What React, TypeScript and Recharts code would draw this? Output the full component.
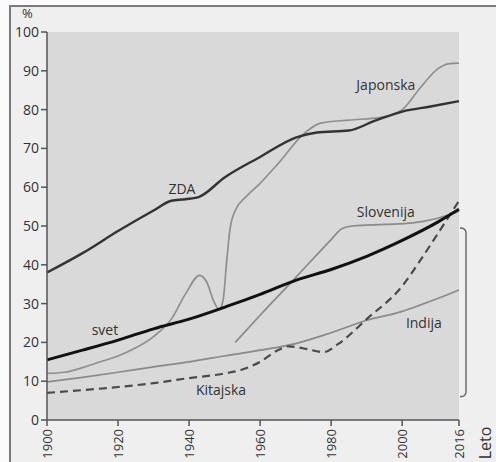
import React from 'react'
import { LineChart, Line, XAxis, YAxis, CartesianGrid, ReferenceLine, ReferenceDot } from 'recharts'

const zda = [
  { year: 1900, value: 38 }, { year: 1910, value: 43 }, { year: 1920, value: 48.7 },
  { year: 1930, value: 54 }, { year: 1935, value: 56.5 }, { year: 1939, value: 56.9 },
  { year: 1943, value: 57.6 }, { year: 1950, value: 62.5 }, { year: 1960, value: 67.8 },
  { year: 1970, value: 72.8 }, { year: 1976, value: 74.1 }, { year: 1985, value: 74.6 },
  { year: 1992, value: 77 }, { year: 2000, value: 79.5 }, { year: 2008, value: 80.8 },
  { year: 2016, value: 82.2 },
]

const japonska = [
  { year: 1900, value: 12 }, { year: 1905, value: 12.3 }, { year: 1910, value: 13.5 },
  { year: 1915, value: 15 }, { year: 1920, value: 16.5 }, { year: 1925, value: 18.6 },
  { year: 1930, value: 21.5 }, { year: 1935, value: 26 }, { year: 1939, value: 32.5 },
  { year: 1943, value: 37.3 }, { year: 1945, value: 35.5 }, { year: 1947, value: 30.5 },
  { year: 1948.5, value: 28.5 }, { year: 1949.6, value: 31 }, { year: 1950.5, value: 40 },
  { year: 1951.5, value: 49 }, { year: 1953, value: 54 }, { year: 1956, value: 57.5 },
  { year: 1960, value: 61 }, { year: 1965, value: 66 }, { year: 1972, value: 73.5 },
  { year: 1977, value: 76.5 }, { year: 1985, value: 77.3 }, { year: 1994, value: 78 },
  { year: 2000, value: 80 }, { year: 2005, value: 85.5 }, { year: 2010, value: 90.5 },
  { year: 2013, value: 91.8 }, { year: 2016, value: 92 },
]

const slovenija = [
  { year: 1953, value: 20 }, { year: 1960, value: 27 }, { year: 1970, value: 36.7 },
  { year: 1980, value: 46.5 }, { year: 1983, value: 49.3 }, { year: 1986, value: 50 },
  { year: 1995, value: 50.4 }, { year: 2003, value: 50.8 }, { year: 2010, value: 52 },
  { year: 2016, value: 53.8 },
]

const svet = [
  { year: 1900, value: 15.5 }, { year: 1910, value: 18 }, { year: 1920, value: 20.6 },
  { year: 1930, value: 23.5 }, { year: 1940, value: 26 }, { year: 1951, value: 29.4 },
  { year: 1960, value: 32.4 }, { year: 1970, value: 36 }, { year: 1980, value: 38.8 },
  { year: 1990, value: 42.2 }, { year: 2000, value: 46.3 }, { year: 2010, value: 51 },
  { year: 2016, value: 54.3 },
]

const indija = [
  { year: 1900, value: 9.8 }, { year: 1910, value: 11 }, { year: 1920, value: 12.3 },
  { year: 1930, value: 13.7 }, { year: 1940, value: 15 }, { year: 1950, value: 16.5 },
  { year: 1960, value: 18 }, { year: 1970, value: 19.7 }, { year: 1980, value: 22.5 },
  { year: 1990, value: 25.7 }, { year: 2000, value: 28 }, { year: 2005, value: 29.6 },
  { year: 2010, value: 31.3 }, { year: 2016, value: 33.5 },
]

const kitajska = [
  { year: 1900, value: 7 }, { year: 1910, value: 7.7 }, { year: 1920, value: 8.5 },
  { year: 1930, value: 9.5 }, { year: 1940, value: 10.8 }, { year: 1950, value: 12 },
  { year: 1955, value: 13 }, { year: 1960, value: 15 }, { year: 1965, value: 18 },
  { year: 1968, value: 19 }, { year: 1972, value: 18.5 }, { year: 1978, value: 17.5 },
  { year: 1982, value: 19.6 }, { year: 1990, value: 26 }, { year: 2000, value: 34.5 },
  { year: 2005, value: 41 }, { year: 2010, value: 48 }, { year: 2016, value: 56.5 },
]

const xTicks = [1900, 1920, 1940, 1960, 1980, 2000, 2016]
const yTicks = [0, 10, 20, 30, 40, 50, 60, 70, 80, 90, 100]

const labels = [
  { text: 'ZDA', year: 1938, value: 59.5 },
  { text: 'Japonska', year: 1995.4, value: 86.3 },
  { text: 'Slovenija', year: 1995.4, value: 53.6 },
  { text: 'svet', year: 1916.3, value: 23.2 },
  { text: 'Indija', year: 2006.1, value: 25 },
  { text: 'Kitajska', year: 1949, value: 7.7 },
]

const bracket = { top: 49.5, bottom: 6 }

const FONT = '"Open Sans", "DejaVu Sans", sans-serif'
const TEXT = '#333'

const XTick = (props: any) => {
  const { x, y, payload } = props
  const ty = y + 1
  return (
    <text
      x={x}
      y={ty}
      transform={`rotate(-90 ${x} ${ty})`}
      textAnchor="end"
      dy="0.35em"
      fill={TEXT}
      fontSize={13}
      fontFamily={FONT}
    >
      {payload.value}
    </text>
  )
}

const Bracket = (props: any) => {
  const { x1, y1, y2 } = props
  const top = Math.min(y1, y2)
  const bot = Math.max(y1, y2)
  const bx = x1 + 7
  return (
    <path
      d={`M ${x1 + 1} ${top} Q ${bx} ${top} ${bx} ${top + 5} L ${bx} ${bot - 5} Q ${bx} ${bot} ${x1 + 1} ${bot}`}
      fill="none"
      stroke="#666"
      strokeWidth={1.4}
    />
  )
}

export default function App() {
  return (
    <div style={{ position: 'absolute', left: 0, top: 0, width: 496, height: 462, background: '#fbfbfb', overflow: 'hidden' }}>
      <div
        style={{
          position: 'absolute',
          left: 9,
          top: 5,
          width: 500,
          height: 470,
          background: '#efefef',
          borderTop: '2px solid #7a7a7a',
          borderLeft: '2px solid #7a7a7a',
        }}
      />
      <div style={{ position: 'absolute', left: 0, top: 0 }}>
        <LineChart
          width={496}
          height={462}
          margin={{ top: 32, right: 37, left: 10, bottom: 2 }}
        >
          <rect x={47} y={32} width={412} height={388} fill="#d9d9d9" />
          <CartesianGrid
            stroke="#e6e6e6"
            strokeDasharray="4 3"
            verticalValues={[1920, 1940, 1960, 1980, 2000]}
            horizontalValues={[10, 20, 30, 40, 50, 60, 70, 80, 90]}
          />
          <XAxis
            type="number"
            dataKey="year"
            domain={[1900, 2016]}
            ticks={xTicks}
            interval={0}
            height={40}
            tick={<XTick />}
            tickSize={6}
            stroke="#555"
            strokeWidth={1.5}
            allowDuplicatedCategory={false}
          />
          <YAxis
            type="number"
            domain={[0, 100]}
            ticks={yTicks}
            interval={0}
            width={37}
            tickSize={6}
            tickMargin={2}
            stroke="#555"
            strokeWidth={1.5}
            tick={{ fill: TEXT, fontSize: 14, fontFamily: FONT }}
          />
          <Line data={indija} dataKey="value" type="monotone" stroke="#8a8a8a" strokeWidth={1.7} dot={false} isAnimationActive={false} />
          <Line data={slovenija} dataKey="value" type="monotone" stroke="#8a8a8a" strokeWidth={1.7} dot={false} isAnimationActive={false} />
          <Line data={japonska} dataKey="value" type="monotone" stroke="#8f8f8f" strokeWidth={1.7} dot={false} isAnimationActive={false} />
          <Line data={kitajska} dataKey="value" type="monotone" stroke="#4a4a4a" strokeWidth={2.2} strokeDasharray="8 5" dot={false} isAnimationActive={false} />
          <Line data={zda} dataKey="value" type="monotone" stroke="#333" strokeWidth={2.4} dot={false} isAnimationActive={false} />
          <Line data={svet} dataKey="value" type="monotone" stroke="#111" strokeWidth={3} dot={false} isAnimationActive={false} />
          <ReferenceLine
            segment={[{ x: 2016, y: bracket.top }, { x: 2016, y: bracket.bottom }]}
            ifOverflow="visible"
            shape={(p: any) => <Bracket {...p} />}
          />
          {labels.map((l) => (
            <ReferenceDot
              key={l.text}
              x={l.year}
              y={l.value}
              r={0}
              fill="none"
              stroke="none"
              label={{ value: l.text, position: 'center', fill: TEXT, fontSize: 14, fontFamily: FONT }}
            />
          ))}
        </LineChart>
      </div>
      <div style={{ position: 'absolute', left: 22, top: 7, fontSize: 13, lineHeight: '13px', fontFamily: FONT, color: TEXT }}>%</div>
      <div
        style={{
          position: 'absolute',
          left: 485,
          top: 443,
          fontSize: 16,
          lineHeight: '16px',
          fontFamily: FONT,
          color: TEXT,
          transform: 'translate(-50%, -50%) rotate(-90deg)',
          whiteSpace: 'nowrap',
        }}
      >
        Leto
      </div>
    </div>
  )
}
